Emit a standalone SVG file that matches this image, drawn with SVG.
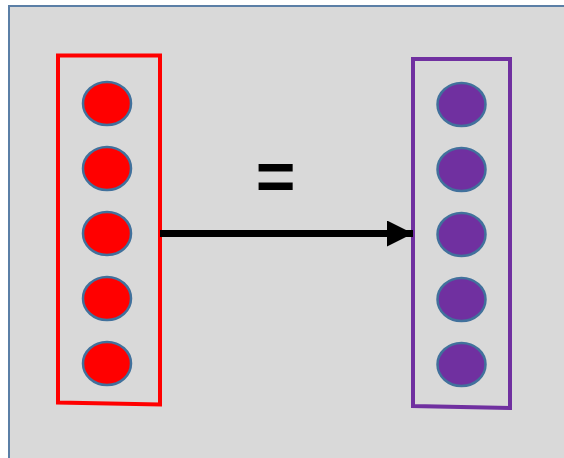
<svg xmlns="http://www.w3.org/2000/svg" width="564" height="458" viewBox="0 0 564 458">
<defs>
<style>
.red{fill:#FF0000;stroke:#41719C;stroke-width:2.5}
.pur{fill:#7030A0;stroke:#41719C;stroke-width:2.5}
.box{fill:none;stroke-width:4;stroke-linejoin:miter}
</style>
<marker id="ah" markerUnits="userSpaceOnUse" markerWidth="26" markerHeight="26" refX="24" refY="12" orient="auto" viewBox="0 0 24 24">
<path d="M0,0 L24,12 L0,24 Z" fill="#000"/>
</marker>
</defs>
<rect x="0" y="0" width="564" height="458" fill="#FFFFFF"/>
<rect id="background" x="9" y="6" width="570" height="470" fill="#D9D9D9" stroke="#5B7FA6" stroke-width="2"/>
<g id="left-layer">
<polygon class="box" points="58,55.5 160,55.5 160,404.5 58,402.5" stroke="#FF0000"/>
<ellipse class="red" cx="107" cy="103.5" rx="24" ry="21.5"/>
<ellipse class="red" cx="107" cy="168.5" rx="24" ry="21.5"/>
<ellipse class="red" cx="107" cy="233.5" rx="24" ry="21.5"/>
<ellipse class="red" cx="107" cy="298.5" rx="24" ry="21.5"/>
<ellipse class="red" cx="107" cy="363.5" rx="24" ry="21.5"/>
</g>
<g id="right-layer">
<polygon class="box" points="413,59 510,59 510,408 413,406" stroke="#7030A0"/>
<ellipse class="pur" cx="461.5" cy="104.5" rx="24" ry="21.5"/>
<ellipse class="pur" cx="461.5" cy="169.5" rx="24" ry="21.5"/>
<ellipse class="pur" cx="461.5" cy="234.5" rx="24" ry="21.5"/>
<ellipse class="pur" cx="461.5" cy="299.5" rx="24" ry="21.5"/>
<ellipse class="pur" cx="461.5" cy="364.5" rx="24" ry="21.5"/>
</g>
<g id="connectors">
<line x1="160" y1="233.5" x2="413" y2="233.5" stroke="#000" stroke-width="7" marker-end="url(#ah)"/>
</g>
<g id="label">
<text x="275.5" y="200" font-family="Liberation Sans, Arial, sans-serif" font-weight="bold" font-size="68" text-anchor="middle" fill="#000">=</text>
</g>
</svg>
